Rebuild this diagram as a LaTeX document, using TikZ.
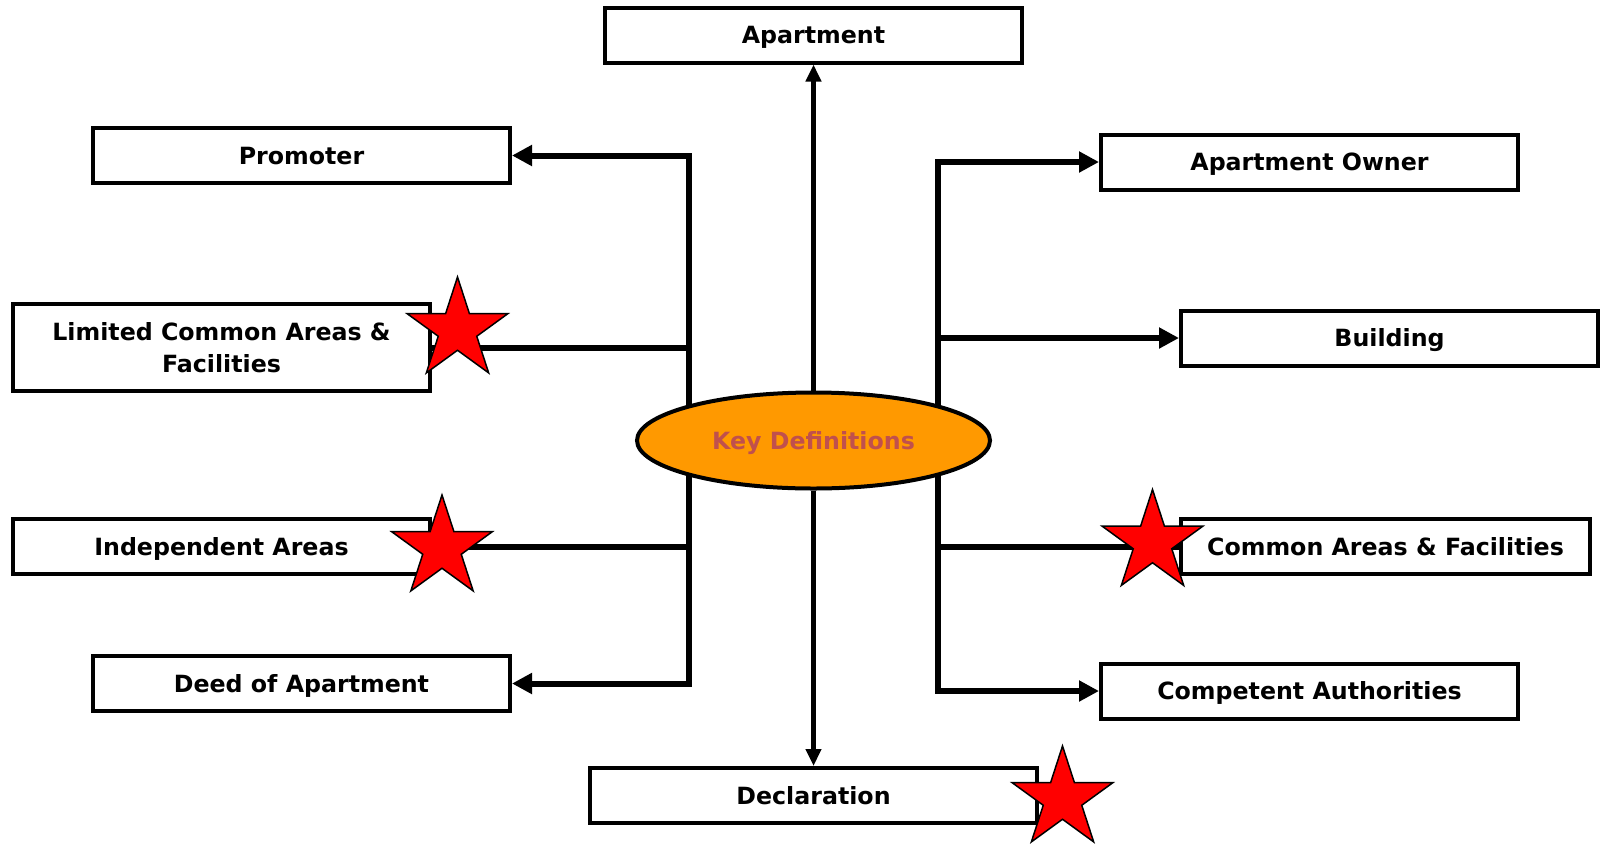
\documentclass[tikz,border=0pt]{standalone}
\usepackage{fontspec}
\setmainfont{DejaVu Sans}
\usetikzlibrary{arrows.meta,shapes.geometric,backgrounds}
\definecolor{keyorange}{RGB}{255,153,0}
\definecolor{keytext}{RGB}{192,80,77}
\definecolor{starred}{RGB}{255,0,0}

\begin{document}
\begin{tikzpicture}[x=1pt,y=-1pt,font=\fontsize{23.7}{32}\selectfont\bfseries]
                \tikzstyle{defbox}=[draw,line width=4pt,minimum width=417pt,minimum height=55pt,align=center,inner sep=0pt]
                \tikzstyle{oneline}=[text height=17.5pt,text depth=0pt]
                \tikzstyle{conn}=[line width=6pt]
                \tikzstyle{arr}=[-{Triangle[length=20pt,width=20pt]}]
                \tikzstyle{redstar}=[star,star points=5,star point ratio=2.618,fill=starred,draw=black,line width=1.5pt,minimum size=106pt,inner sep=0pt]
                
                \useasboundingbox (0,0) rectangle (1605,844);
                
                \node[defbox,oneline] (apt) at (813.5,35) {Apartment};
                \node[defbox,oneline] (prom) at (301.5,155.5) {Promoter};
                \node[defbox,minimum height=87pt] (lim) at (221.5,347.5) {Limited Common Areas \&\\Facilities};
                \node[defbox,oneline] (ind) at (221.5,546.5) {Independent Areas};
                \node[defbox,oneline] (deed) at (301.5,683.5) {Deed of Apartment};
                \node[defbox,oneline,minimum width=447pt] (decl) at (813.5,795.5) {Declaration};
                \node[defbox,oneline] (owner) at (1309.5,162) {Apartment Owner};
                \node[defbox,oneline] (bldg) at (1389.5,338) {Building};
                \node[defbox,oneline,minimum width=409pt] (common) at (1385.5,546.5) {Common Areas \& Facilities};
                \node[defbox,oneline] (auth) at (1309.5,691) {Competent Authorities};
                
                \node[ellipse,draw,line width=4pt,fill=keyorange,text=keytext,oneline,minimum width=353pt,minimum height=96pt,inner sep=0pt] (key) at (813.5,440.5) {Key Definitions};
                
                \coordinate (lj) at (689,440);
                \coordinate (rj) at (938,440);
                
                \begin{scope}[on background layer]
                \draw[conn,arr] (lj) |- (prom);
                \draw[conn] (lj) |- (lim);
                \draw[conn] (lj) |- (ind);
                \draw[conn,arr] (lj) |- (deed);
                \draw[conn,arr] (rj) |- (owner);
                \draw[conn,arr] (rj) |- (bldg);
                \draw[conn] (rj) |- (common);
                \draw[conn,arr] (rj) |- (auth);
                \end{scope}
                
                \draw[line width=4.3pt,-{Triangle[length=17pt,width=15pt]}] (key) -- (apt);
                \draw[line width=4.3pt,-{Triangle[length=17pt,width=15pt]}] (key) -- (decl);
                
                \node[redstar] (s1) at (457.5,330) {};
                \node[redstar] (s2) at (442,548) {};
                \node[redstar] (s3) at (1152.5,542.5) {};
                \node[redstar] (s4) at (1062.5,799) {};
                
\end{tikzpicture}
\end{document}
